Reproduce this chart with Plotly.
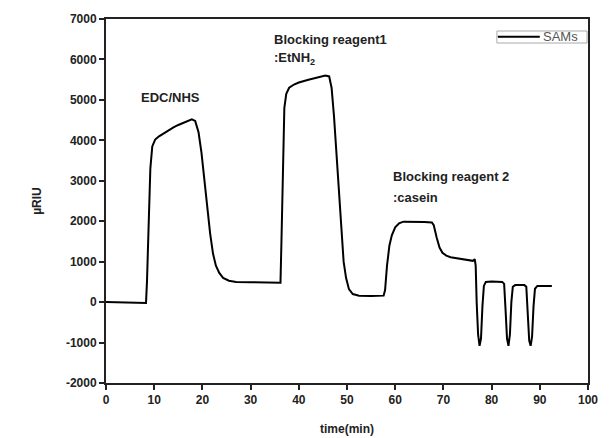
import plotly.graph_objects as go

time_min = [0, 4, 8.3, 8.5, 8.8, 9.2, 9.6, 10.2, 11, 12, 13, 14, 15, 16, 17, 17.8, 18.5, 19.2, 19.8,
            20.4, 21, 21.6, 22.2, 22.8, 23.5, 24.3, 25.5, 27, 30, 33, 36.2,
            36.4, 36.7, 37.0, 37.4, 38.0, 39, 40, 42, 44, 45.5, 46.3, 46.8, 47.3, 47.8, 48.3, 48.8,
            49.3, 49.8, 50.4, 51.2, 52.5, 55, 57.6,
            57.9, 58.3, 58.8, 59.3, 60, 60.8, 61.7, 64, 66, 67.6, 68.0, 68.6, 69.2, 69.8, 70.6, 71.5,
            73, 75, 76.1, 76.5, 76.7, 76.9, 77.2, 77.5, 77.8, 78.1, 78.4, 78.8, 80, 82.2,
            82.6, 82.9, 83.2, 83.5, 83.8, 84.1, 84.4, 84.9, 86.8,
            87.2, 87.5, 87.8, 88.1, 88.4, 88.7, 89.0, 89.5, 92.5]
sams_riu = [0, -10, -20, 500, 2000, 3300, 3850, 4020, 4100, 4180, 4250, 4320, 4380, 4430, 4480, 4520, 4480, 4200, 3700,
            3000, 2300, 1700, 1200, 900, 720, 600, 530, 500, 490, 480, 480,
            1500, 3500, 4800, 5150, 5300, 5380, 5430, 5500, 5560, 5600, 5580, 5300, 4600, 3700, 2700, 1700,
            1000, 600, 320, 200, 160, 150, 160,
            300, 900, 1400, 1650, 1850, 1950, 1990, 1990, 1980, 1970, 1900, 1600, 1350, 1220, 1150, 1110,
            1080, 1050, 1020, 1060, 900, 0, -800, -1080, -900, -100, 400, 500, 510, 500,
            450, -200, -900, -1080, -800, 0, 380, 420, 420,
            380, -300, -950, -1080, -850, -100, 330, 400, 400]

x_ticks = list(range(0, 101, 10))
y_ticks = list(range(-2000, 7001, 1000))

labels = [
    ("<b>EDC/NHS</b>", 13.3, 5070, "center"),
    ("<b>Blocking reagent1</b>", 34.4, 6500, "left"),
    ("<b>:EtNH<sub>2</sub></b>", 34.4, 6020, "left"),
    ("<b>Blocking reagent 2</b>", 59.1, 3100, "left"),
    ("<b>:casein</b>", 59.1, 2580, "left"),
]
series_name = "SAMs"

FONT = "Liberation Sans, Arial, sans-serif"

fig = go.Figure()
fig.add_trace(go.Scatter(x=time_min, y=sams_riu, mode="lines", name=series_name,
                         line=dict(color="black", width=2), showlegend=False))

for txt, x, y, anchor in labels:
    fig.add_annotation(x=x, y=y, text=txt, showarrow=False, xanchor=anchor, yanchor="middle",
                       font=dict(family=FONT, size=13, color="#222"))

# compact legend box (drawn in paper coordinates)
fig.add_shape(type="rect", xref="paper", yref="paper", x0=0.811, x1=0.998, y0=0.934, y1=0.967,
              line=dict(color="#aaa", width=1), fillcolor="white", layer="above")
fig.add_shape(type="line", xref="paper", yref="paper", x0=0.813, x1=0.900, y0=0.951, y1=0.951,
              line=dict(color="black", width=2), layer="above")
fig.add_annotation(xref="paper", yref="paper", x=0.902, y=0.951, text=series_name, showarrow=False,
                   xanchor="left", yanchor="middle", font=dict(family=FONT, size=13, color="#555"))

fig.update_layout(
    width=610, height=438,
    margin=dict(l=106, r=22, t=19, b=55),
    paper_bgcolor="white", plot_bgcolor="white",
    font=dict(family=FONT, color="#222"),
    showlegend=False,
    xaxis=dict(range=[0, 100], tickvals=x_ticks, ticktext=[f"<b>{v}</b>" for v in x_ticks],
               showgrid=False, zeroline=False, showline=True, linecolor="#222", linewidth=2,
               mirror=True, ticks="outside", ticklen=5, tickwidth=1.5, tickcolor="#222",
               tickfont=dict(size=12, family=FONT, color="#222"), automargin=False,
               title=dict(text="<b>time(min)</b>", font=dict(size=12, family=FONT), standoff=18)),
    yaxis=dict(range=[-2000, 7000], tickvals=y_ticks, ticktext=[f"<b>{v}</b>" for v in y_ticks],
               showgrid=False, zeroline=False, showline=True, linecolor="#222", linewidth=2,
               mirror=True, ticks="outside", ticklen=5, tickwidth=1.5, tickcolor="#222",
               tickfont=dict(size=12, family=FONT, color="#222"), automargin=False,
               title=dict(text="<b>µRIU</b>", font=dict(size=12, family=FONT), standoff=22)),
)

fig.write_html("out.html")
